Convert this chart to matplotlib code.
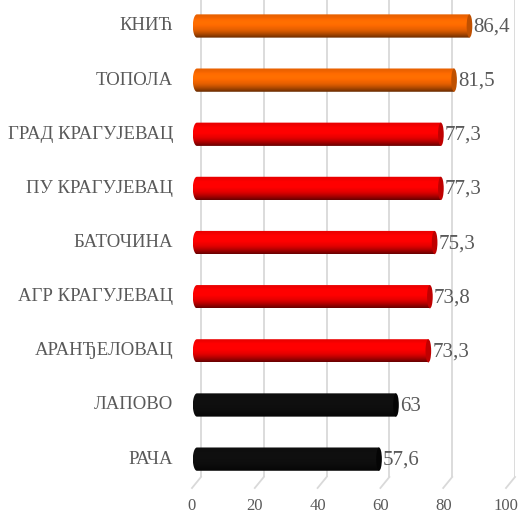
import numpy as np
import matplotlib.pyplot as plt
from matplotlib.patches import PathPatch, Ellipse
from matplotlib.path import Path
from matplotlib.colors import to_rgb

names = ['РАЧА', 'ЛАПОВО', 'АРАНЂЕЛОВАЦ', 'АГР КРАГУЈЕВАЦ', 'БАТОЧИНА',
         'ПУ КРАГУЈЕВАЦ', 'ГРАД КРАГУЈЕВАЦ', 'ТОПОЛА', 'КНИЋ']
values = [57.6, 63, 73.3, 73.8, 75.3, 77.3, 77.3, 81.5, 86.4]
labels = ['57,6', '63', '73,3', '73,8', '75,3', '77,3', '77,3', '81,5', '86,4']
colors = ['#000000', '#000000', '#ff0000', '#ff0000', '#ff0000',
          '#ff0000', '#ff0000', '#ff6a00', '#ff6a00']
ticks = [0, 20, 40, 60, 80, 100]

fnt = 'Liberation Serif'
txt_color = '#595959'

W, H = 522, 514
fig = plt.figure(figsize=(W / 100, H / 100), dpi=100)
# axes from pixel 185 to 515; 0 sits at 201
px = 314 / 100
xmin = -(201 - 185) / px
ax = fig.add_axes([185 / W, 1 - 477 / H, 330 / W, 477 / H])
ax.set_xlim(xmin, 100)
ax.set_ylim(-0.33, 8.48)
for s in ax.spines.values():
    s.set_visible(False)
ax.set_xticks([])
ax.set_yticks([])

# gridlines with the little 3d feet
for t in ticks:
    ax.axvline(t, color='#d9d9d9', lw=1.3, zorder=0)
    x0, y0 = ax.transData.transform((t, -0.33))
    fig.lines.append(plt.Line2D([x0 / W, (x0 - 9) / W], [y0 / H, (y0 - 11) / H],
                                color='#d9d9d9', lw=1.3, transform=fig.transFigure))
    fig.text((x0 - 9) / W, (y0 - 29) / H, str(t), ha='center', va='center',
             fontsize=12, color=txt_color, family=fnt)

h = 0.43
cap = 1.3  # left cap half width in data units
g = np.linspace(0, 1, 64)  # top -> bottom
shade = 0.9 + 0.15 * np.exp(-((g - 0.35) / 0.2) ** 2)
shade = shade - 0.5 * np.clip((g - 0.62) / 0.38, 0, 1) ** 1.4

for i, (v, c) in enumerate(zip(values, colors)):
    rgb = np.array(to_rgb(c))
    if c == '#000000':
        col = np.outer(np.clip(shade, 0, 1) * 0.06, [1, 1, 1])
    else:
        col = np.clip(np.outer(shade, rgb), 0, 1)
    img = col[:, None, :] * np.ones((1, 2, 1))
    x_left = -2.6
    x_right = v - 0.9
    th = np.linspace(np.pi / 2, 3 * np.pi / 2, 30)
    lx = x_left + cap + cap * np.cos(th)
    ly = i + h / 2 * np.sin(th)
    verts = np.vstack([np.column_stack([lx, ly]),
                       [[x_right, i - h / 2], [x_right, i + h / 2], [lx[0], ly[0]]]])
    patch = PathPatch(Path(verts), fc='none', ec='none', zorder=2)
    ax.add_patch(patch)
    im = ax.imshow(np.clip(img, 0, 1), extent=(x_left, x_right, i - h / 2, i + h / 2),
                   aspect='auto', zorder=2, interpolation='bilinear', origin='upper')
    im.set_clip_path(patch)
    if c == '#000000':
        end_col = (0.02, 0.02, 0.02)
    else:
        end_col = np.clip(rgb * 0.75, 0, 1)
    ax.add_patch(Ellipse((x_right, i), 1.8, h, fc=end_col, ec='none', zorder=3))
    ax.text(v + 0.4, i - 0.02, labels[i], ha='left', va='center', fontsize=15,
            color=txt_color, family=fnt, zorder=4)
    x0, y0 = ax.transData.transform((0, i))
    fig.text(173 / W, y0 / H, names[i], ha='right', va='center', fontsize=13.5,
             color=txt_color, family=fnt)

ax.set_aspect('auto')
ax.set_xlim(xmin, 100)
fig.savefig('out.png', dpi=100)
